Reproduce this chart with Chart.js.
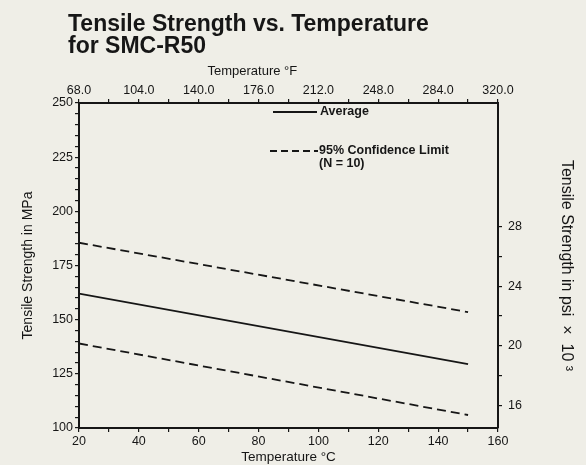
<!DOCTYPE html>
<html>
<head>
<meta charset="utf-8">
<script src="https://cdn.jsdelivr.net/npm/chart.js@4"></script>
<style>
  html, body { margin: 0; padding: 0; background: #efeee7; }
  #wrap { position: relative; width: 586px; height: 465px; }
</style>
</head>
<body>
<div id="wrap"><canvas id="chart"></canvas></div>
<script>
const tempC = [20, 150];
const average = [162, 129.5];
const upperLimit = [185.5, 153.5];
const lowerLimit = [139, 106];

const mpaLabels = [100, 125, 150, 175, 200, 225, 250];
const celsiusLabels = [20, 40, 60, 80, 100, 120, 140, 160];
const fahrenheitLabels = [68, 104, 140, 176, 212, 248, 284, 320];
const psiLabels = [16, 20, 24, 28];

const MPA_PER_KSI = 6.895;
const ink = '#161616';
const fontFamily = '"Liberation Sans", Arial, Helvetica, sans-serif';

Chart.defaults.font.family = fontFamily;
Chart.defaults.color = ink;

function steps(from, to, step) {
    const out = [];
    for (let v = from; v <= to + 1e-9; v += step) out.push(v);
    return out;
}

function points(ys) {
    return tempC.map((t, i) => ({ x: t, y: ys[i] }));
}

// fixed box sizes so the plot area lands where the original's does
function fixWidth(w) {
    return (scale) => { scale.width = w; };
}
function fixHeight(h) {
    return (scale) => { scale.height = h; };
}
function setTicks(values) {
    return (scale) => { scale.ticks = values.map(v => ({ value: v })); };
}

const tickFont = { size: 12.5 };
const gridOpts = {
    drawOnChartArea: false,
    drawTicks: true,
    tickLength: 4,
    color: ink,
    lineWidth: 1.2
};
const borderOpts = { display: true, color: ink, width: 2 };

const textPlugin = {
    id: 'textPlugin',
    afterDraw(chart) {
        const ctx = chart.ctx;
        ctx.save();
        ctx.fillStyle = ink;
        ctx.strokeStyle = ink;

        // title
        ctx.font = 'bold 23px ' + fontFamily;
        ctx.textBaseline = 'alphabetic';
        ctx.fillText('Tensile Strength vs. Temperature', 68, 31);
        ctx.fillText('for SMC-R50', 68, 53);

        // legend box
        ctx.font = 'bold 12.5px ' + fontFamily;
        ctx.textBaseline = 'middle';
        ctx.lineWidth = 1.8;

        ctx.setLineDash([]);
        ctx.beginPath();
        ctx.moveTo(273, 112);
        ctx.lineTo(317, 112);
        ctx.stroke();
        ctx.fillText('Average', 320, 112);

        ctx.setLineDash([7, 4]);
        ctx.beginPath();
        ctx.moveTo(270, 151);
        ctx.lineTo(318, 151);
        ctx.stroke();
        ctx.setLineDash([]);
        ctx.fillText('95% Confidence Limit', 319, 151);
        ctx.fillText('(N = 10)', 319, 164);

        ctx.restore();
    }
};

const lineStyle = {
    borderColor: ink,
    backgroundColor: ink,
    borderWidth: 1.8,
    pointRadius: 0,
    fill: false,
    tension: 0
};

const data = {
    datasets: [
        Object.assign({ label: 'Average', data: points(average) }, lineStyle),
        Object.assign({ label: '95% Confidence Limit (upper)', data: points(upperLimit), borderDash: [9, 5] }, lineStyle),
        Object.assign({ label: '95% Confidence Limit (lower)', data: points(lowerLimit), borderDash: [9, 5] }, lineStyle)
    ]
};

const config = {
    type: 'line',
    data: data,
    options: {
        responsive: true,
        maintainAspectRatio: false,
        animation: false,
        layout: { padding: 0 },
        plugins: {
            legend: { display: false },
            title: { display: false },
            tooltip: { enabled: false }
        },
        scales: {
            x: {
                type: 'linear',
                position: 'bottom',
                min: 20,
                max: 160,
                afterBuildTicks: setTicks(steps(20, 160, 10)),
                afterFit: fixHeight(37),
                grid: gridOpts,
                border: borderOpts,
                ticks: {
                    font: tickFont,
                    padding: 2,
                    autoSkip: false,
                    maxRotation: 0,
                    callback: (v) => celsiusLabels.includes(v) ? String(v) : ''
                },
                title: {
                    display: true,
                    text: 'Temperature °C',
                    font: { size: 13.5 },
                    padding: { top: 0, bottom: 0 }
                }
            },
            x2: {
                type: 'linear',
                position: 'top',
                min: 68,
                max: 320,
                afterBuildTicks: setTicks(steps(68, 320, 18)),
                afterFit: fixHeight(103),
                grid: gridOpts,
                border: borderOpts,
                ticks: {
                    font: tickFont,
                    padding: 1,
                    autoSkip: false,
                    maxRotation: 0,
                    callback: (v) => fahrenheitLabels.includes(v) ? v.toFixed(1) : ''
                },
                title: {
                    display: true,
                    text: 'Temperature °F' + ' '.repeat(20),
                    font: { size: 13 },
                    padding: { top: 64, bottom: 0 }
                }
            },
            y: {
                type: 'linear',
                position: 'left',
                min: 100,
                max: 250,
                afterBuildTicks: setTicks(steps(100, 250, 5)),
                afterFit: fixWidth(79),
                grid: gridOpts,
                border: borderOpts,
                ticks: {
                    font: tickFont,
                    padding: 2,
                    autoSkip: false,
                    callback: (v) => mpaLabels.includes(v) ? String(v) : ''
                },
                title: {
                    display: true,
                    text: 'Tensile Strength in MPa',
                    font: { size: 14 },
                    padding: { top: 20, bottom: 0 }
                }
            },
            y2: {
                type: 'linear',
                position: 'right',
                min: 100 / MPA_PER_KSI,
                max: 250 / MPA_PER_KSI,
                afterBuildTicks: setTicks(steps(16, 28, 2)),
                afterFit: fixWidth(88),
                grid: gridOpts,
                border: borderOpts,
                ticks: {
                    font: tickFont,
                    padding: 6,
                    autoSkip: false,
                    callback: (v) => psiLabels.includes(v) ? String(v) : ''
                },
                title: {
                    display: true,
                    text: 'Tensile Strength in psi  ×  10 ³',
                    font: { size: 16 },
                    padding: { top: 10, bottom: 0 }
                }
            }
        }
    },
    plugins: [textPlugin]
};

const chart = new Chart(document.getElementById('chart'), config);
</script>
</body>
</html>
